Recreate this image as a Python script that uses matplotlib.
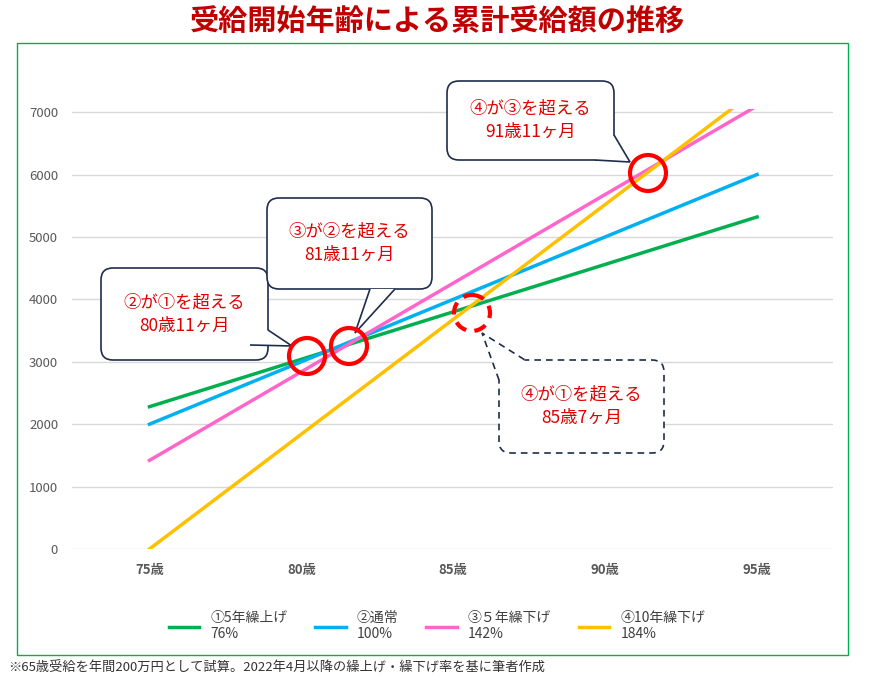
import matplotlib
matplotlib.use("Agg")
import matplotlib.pyplot as plt
from matplotlib.patches import FancyBboxPatch, Polygon, Ellipse, Rectangle

plt.rcParams['font.family'] = ['Noto Sans CJK JP', 'DejaVu Sans']

ages = [75, 80, 85, 90, 95]
age_labels = ['75歳', '80歳', '85歳', '90歳', '95歳']
s1 = [2280, 3040, 3800, 4560, 5320]
s2 = [2000, 3000, 4000, 5000, 6000]
s3 = [1420, 2840, 4260, 5680, 7100]
s4 = [0, 1840, 3680, 5520, 7360]
names = ['①5年繰上げ\n76%', '②通常\n100%', '③５年繰下げ\n142%', '④10年繰下げ\n184%']
colors = ['#00B050', '#00B0F0', '#FF66CC', '#FFC000']

fig = plt.figure(figsize=(8.74, 6.80), dpi=100)
ax = fig.add_axes([72/874, 1-549/680, (833-72)/874, (549-109)/680])
for s, n, c in zip([s1, s2, s3, s4], names, colors):
    ax.plot(ages, s, color=c, lw=2.5, label=n)
ax.set_xlim(72.45, 97.5)
ax.set_ylim(0, 7050)
ax.set_xticks(ages)
ax.set_xticklabels(age_labels)
ax.set_yticks(range(0, 7001, 1000))
ax.grid(axis='y', color='#D9D9D9', lw=1)
ax.set_axisbelow(True)
for sp in ax.spines.values():
    sp.set_visible(False)
ax.tick_params(length=0, colors='#595959', labelsize=9.5, pad=10)
for t in ax.get_xticklabels():
    t.set_fontweight('bold')

fig.legend(loc='center', bbox_to_anchor=(0.5, 1-626/680), ncol=4, frameon=False,
           fontsize=10, handlelength=2.2, columnspacing=2.0, labelcolor='#404040')

ov = fig.add_axes([0, 0, 1, 1], facecolor='none')
ov.set_xlim(0, 874); ov.set_ylim(680, 0); ov.axis('off')
ov.add_patch(Rectangle((17, 43), 831, 612, fill=False, ec='#00B050', lw=1))
ov.text(437, 22, '受給開始年齢による累計受給額の推移', color='#C00000', fontsize=21,
        ha='center', va='center', fontweight='bold')
ov.text(8, 668, '※65歳受給を年間200万円として試算。2022年4月以降の繰上げ・繰下げ率を基に筆者作成',
        fontsize=9.5, color='#333333', ha='left', va='center')

def callout(x0, y0, x1, y1, tail, text, dashed=False):
    ls = (0, (4, 3)) if dashed else '-'
    ec = '#1F2D4D'
    ov.add_patch(FancyBboxPatch((x0, y0), x1-x0, y1-y0, boxstyle='round,pad=0,rounding_size=12',
                                fc='white', ec=ec, lw=1.2, ls=ls, zorder=3))
    ov.add_patch(Polygon(tail, closed=False, fill=True, fc='white', ec=ec, lw=1.2, ls=ls, zorder=4))
    ov.text((x0+x1)/2, (y0+y1)/2, text, color='#E00000', fontsize=12.5, ha='center',
            va='center', zorder=5, linespacing=1.4)

callout(101, 268, 268, 360, [(268, 330), (292, 346), (250, 345)], '②が①を超える\n80歳11ヶ月')
callout(267, 198, 432, 289, [(395, 289), (355, 333), (370, 289)], '③が②を超える\n81歳11ヶ月')
callout(447, 81, 614, 160, [(614, 135), (630, 162), (595, 160)], '④が③を超える\n91歳11ヶ月')
callout(499, 360, 664, 453, [(499, 380), (482, 333), (525, 360)], '④が①を超える\n85歳7ヶ月', dashed=True)

for (cx, cy, d) in [(307, 356, False), (349, 346, False), (648, 173, False), (472, 313, True)]:
    ov.add_patch(Ellipse((cx, cy), 36, 36, fill=False, ec='#FF0000', lw=3,
                         ls=(0, (3, 2)) if d else '-', zorder=6))

fig.savefig('out.png', dpi=100)
